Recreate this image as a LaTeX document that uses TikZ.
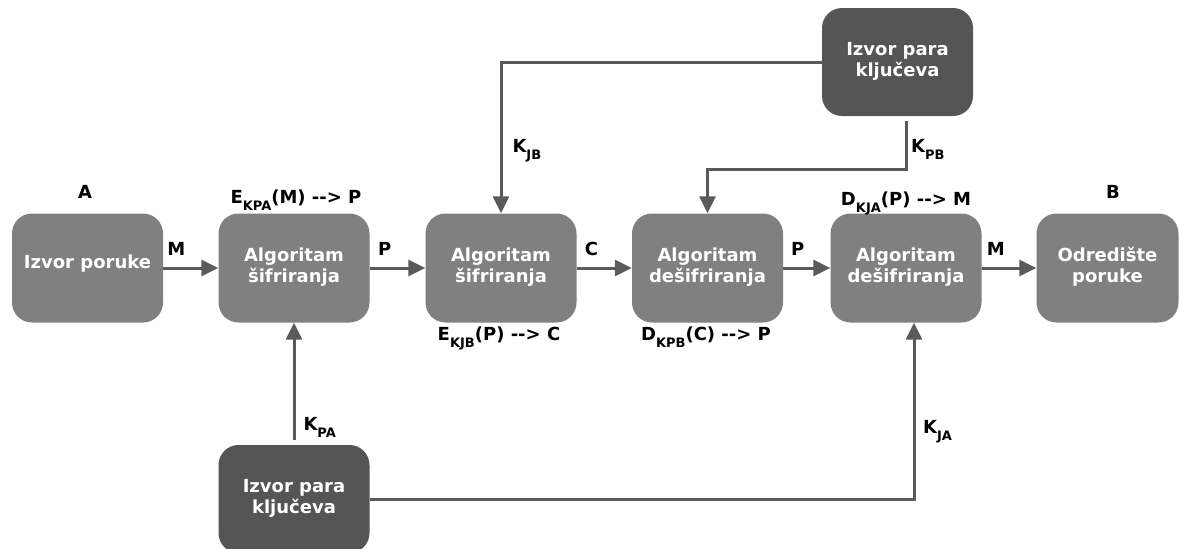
\documentclass[tikz,border=0pt]{standalone}
\usepackage{fontspec}
\setmainfont{DejaVu Sans}
\usetikzlibrary{arrows.meta,calc}
\definecolor{boxgray}{HTML}{808080}
\definecolor{darkbox}{HTML}{555555}
\definecolor{linegray}{HTML}{5A5A5A}
\newcommand{\ksub}[1]{\raisebox{-7pt}{\fontsize{13}{13}\selectfont #1}}
\newcommand{\bt}[2]{\raisebox{#1}{\begin{tabular}{@{}c@{}}#2\end{tabular}}}
\newcommand{\arr}{\mbox{-}\mbox{-}\mbox{>}}
\begin{document}
\begin{tikzpicture}[x=1pt,y=-1pt,
  font=\fontsize{18}{20.5}\selectfont\bfseries,
  blk/.style={draw=none,fill=boxgray,rounded corners=20pt,minimum width=151pt,minimum height=109pt,inner sep=0pt,text=white,align=center},
  dblk/.style={blk,fill=darkbox,minimum height=108pt},
  conn/.style={draw=linegray,line width=3pt,-{Triangle[length=17pt,width=16pt]}},
  lbl/.style={text=black,inner sep=0pt,anchor=base}]
\useasboundingbox (0,0) rectangle (1179,549);
\node[blk] (b1) at (87.5,268) {\bt{14pt}{Izvor poruke}};
\node[blk] (b2) at (294,268) {\bt{0pt}{Algoritam\\šifriranja}};
\node[blk] (b3) at (501,268) {\bt{0pt}{Algoritam\\šifriranja}};
\node[blk] (b4) at (707.5,268) {\bt{0pt}{Algoritam\\dešifriranja}};
\node[blk] (b5) at (906,268) {\bt{0pt}{Algoritam\\dešifriranja}};
\node[blk,minimum width=142pt] (b6) at (1107.5,268) {\bt{15pt}{Odredište\\poruke}};
\node[dblk] (kt) at (897.5,62) {\bt{0pt}{Izvor para\\ključeva}};
\node[dblk] (kb) at (294,499) {\bt{0pt}{Izvor para\\ključeva}};
% labels
\node[lbl] (la) at (85,198) {A};
\node[lbl] (lb) at (1113,198) {B};
\node[lbl] (e1) at (296,203) {E\ksub{KPA}(M) \arr{} P};
\node[lbl] (d2) at (906,205) {D\ksub{KJA}(P) \arr{} M};
\node[lbl] (e2) at (499,340) {E\ksub{KJB}(P) \arr{} C};
\node[lbl] (d1) at (706,340) {D\ksub{KPB}(C) \arr{} P};
% horizontal arrows
\draw[conn] (b1) -- node[lbl,pos=0.24,yshift=13pt] {M} (b2);
\draw[conn] (b2) -- node[lbl,pos=0.27,yshift=13pt] {P} (b3);
\draw[conn] (b3) -- node[lbl,pos=0.27,yshift=13pt] {C} (b4);
\draw[conn] (b4) -- node[lbl,pos=0.31,yshift=13pt] {P} (b5);
\draw[conn] (b5) -- node[lbl,pos=0.26,yshift=13pt] {M} (b6);
% key connectors
\draw[conn] (kt.west) -| node[lbl,pos=0.8,anchor=base west,xshift=10pt] {K\ksub{JB}} (b3.north);
\coordinate (kps) at ($(kt.south)+(8.5,5)$);
\draw[conn] (kps) |- ($(b4.north)+(0,-44)$) -- (b4.north);
\node[lbl,anchor=base west] (kpb) at (911,152) {K\ksub{PB}};
\draw[conn,shorten <=5pt] (kb.north) -- node[lbl,pos=0.12,anchor=base west,xshift=8pt] {K\ksub{PA}} (b2.south);
\draw[conn] (kb.east) -| ($(b5.south)+(8,0)$);
\node[lbl,anchor=base west] (kja) at (923,433) {K\ksub{JA}};
\end{tikzpicture}
\end{document}
